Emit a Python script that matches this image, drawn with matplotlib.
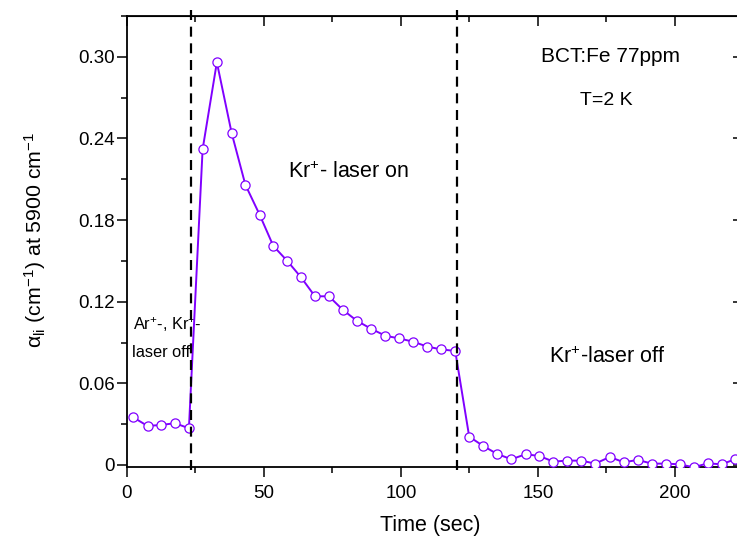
import matplotlib
matplotlib.use('Agg')
import matplotlib.pyplot as plt
from matplotlib.ticker import MultipleLocator, FuncFormatter

plt.rcParams['font.family'] = ['Liberation Sans', 'DejaVu Sans']
plt.rcParams['mathtext.fontset'] = 'custom'
plt.rcParams['mathtext.rm'] = 'Liberation Sans'
plt.rcParams['mathtext.it'] = 'Liberation Sans'
plt.rcParams['mathtext.default'] = 'rm'

# time (s) and light-induced absorption (cm^-1)
times = [2.3, 7.5, 12.4, 17.5, 22.6, 27.6, 32.8, 38.2, 43.2, 48.4, 53.4,
         58.5, 63.5, 68.6, 73.7, 78.8, 83.9, 89.2, 94.3, 99.4, 104.5, 109.6,
         114.6, 119.8, 124.9, 130.0, 135.1, 140.3, 145.5, 150.5, 155.6, 160.7,
         165.8, 170.9, 176.2, 181.3, 186.4, 191.6, 196.7, 201.7, 206.8, 211.9,
         217.0, 221.9]
alpha = [0.035, 0.0287, 0.0294, 0.0307, 0.027, 0.232, 0.296, 0.244, 0.206,
         0.184, 0.161, 0.150, 0.138, 0.124, 0.124, 0.114, 0.106, 0.100, 0.095,
         0.093, 0.0906, 0.087, 0.085, 0.0838, 0.0208, 0.014, 0.0081, 0.0042,
         0.0079, 0.0066, 0.0025, 0.0032, 0.0032, 0.001, 0.0059, 0.002, 0.0037,
         0.001, 0.001, 0.0005, -0.0017, 0.0012, 0.0005, 0.0042]
laser_switch = [23.2, 120.3]

purple = '#8000ff'

fig = plt.figure(figsize=(7.37, 5.44), dpi=100)
ax = fig.add_axes([0.1723, 0.1415, 0.8365, 0.829])

ax.plot(times, alpha, color=purple, lw=1.4, marker='o', ms=6.6,
        mfc='white', mec=purple, mew=0.9, zorder=3)

for t in laser_switch:
    ax.plot([t, t], [-0.0037, 0.338], color='black', lw=1.6,
            ls=(0, (4.5, 3)), clip_on=False, zorder=4)

ax.set_xlim(0, 225)
ax.set_ylim(-0.0015, 0.330)

ax.xaxis.set_major_locator(MultipleLocator(50))
ax.xaxis.set_minor_locator(MultipleLocator(25))
ax.yaxis.set_major_locator(MultipleLocator(0.06))
ax.yaxis.set_minor_locator(MultipleLocator(0.03))
ax.yaxis.set_major_formatter(FuncFormatter(lambda v, p: '0' if abs(v) < 1e-9 else f'{v:.2f}'))

for s in ax.spines.values():
    s.set_linewidth(1.3)

ax.tick_params(axis='x', which='major', direction='out', length=7, width=1.1,
               labelsize=13.5, pad=6)
ax.tick_params(axis='y', which='major', direction='out', length=7, width=1.1,
               labelsize=13.5, pad=1.5)
ax.tick_params(which='minor', direction='out', length=4, width=1.1)

top = ax.secondary_xaxis('top')
top.xaxis.set_major_locator(MultipleLocator(50))
top.xaxis.set_minor_locator(MultipleLocator(25))
top.tick_params(which='major', direction='in', length=7, width=1.1, labeltop=False)
top.tick_params(which='minor', direction='in', length=4, width=1.1)

right = ax.secondary_yaxis('right')
right.yaxis.set_major_locator(MultipleLocator(0.06))
right.yaxis.set_minor_locator(MultipleLocator(0.03))
right.tick_params(which='major', direction='in', length=7, width=1.1, labelright=False)
right.tick_params(which='minor', direction='in', length=4, width=1.1)

ax.text(176.3, 0.300, 'BCT:Fe 77ppm', fontsize=15, ha='center', va='center')
ax.text(174.8, 0.268, 'T=2 K', fontsize=14, ha='center', va='center')
ax.text(81, 0.215, 'Kr$^{+}$- laser on', fontsize=15.5, ha='center', va='center')
ax.text(175.2, 0.079, 'Kr$^{+}$-laser off', fontsize=15.5, ha='center', va='center')
ax.text(2.2, 0.103, 'Ar$^{+}$-, Kr$^{+}$-', fontsize=11.8, ha='left', va='center', zorder=2)
ax.text(1.8, 0.083, 'laser off', fontsize=11.8, ha='left', va='center', zorder=2)

fig.text(430 / 737, 1 - 525 / 544, 'Time (sec)', fontsize=15.5,
         ha='center', va='center')
fig.text(35 / 737, 1 - 240 / 544, 'α$_{li}$ (cm$^{-1}$) at 5900 cm$^{-1}$',
         fontsize=15.4, rotation=90, ha='center', va='center')

fig.savefig('out.png', dpi=100)
